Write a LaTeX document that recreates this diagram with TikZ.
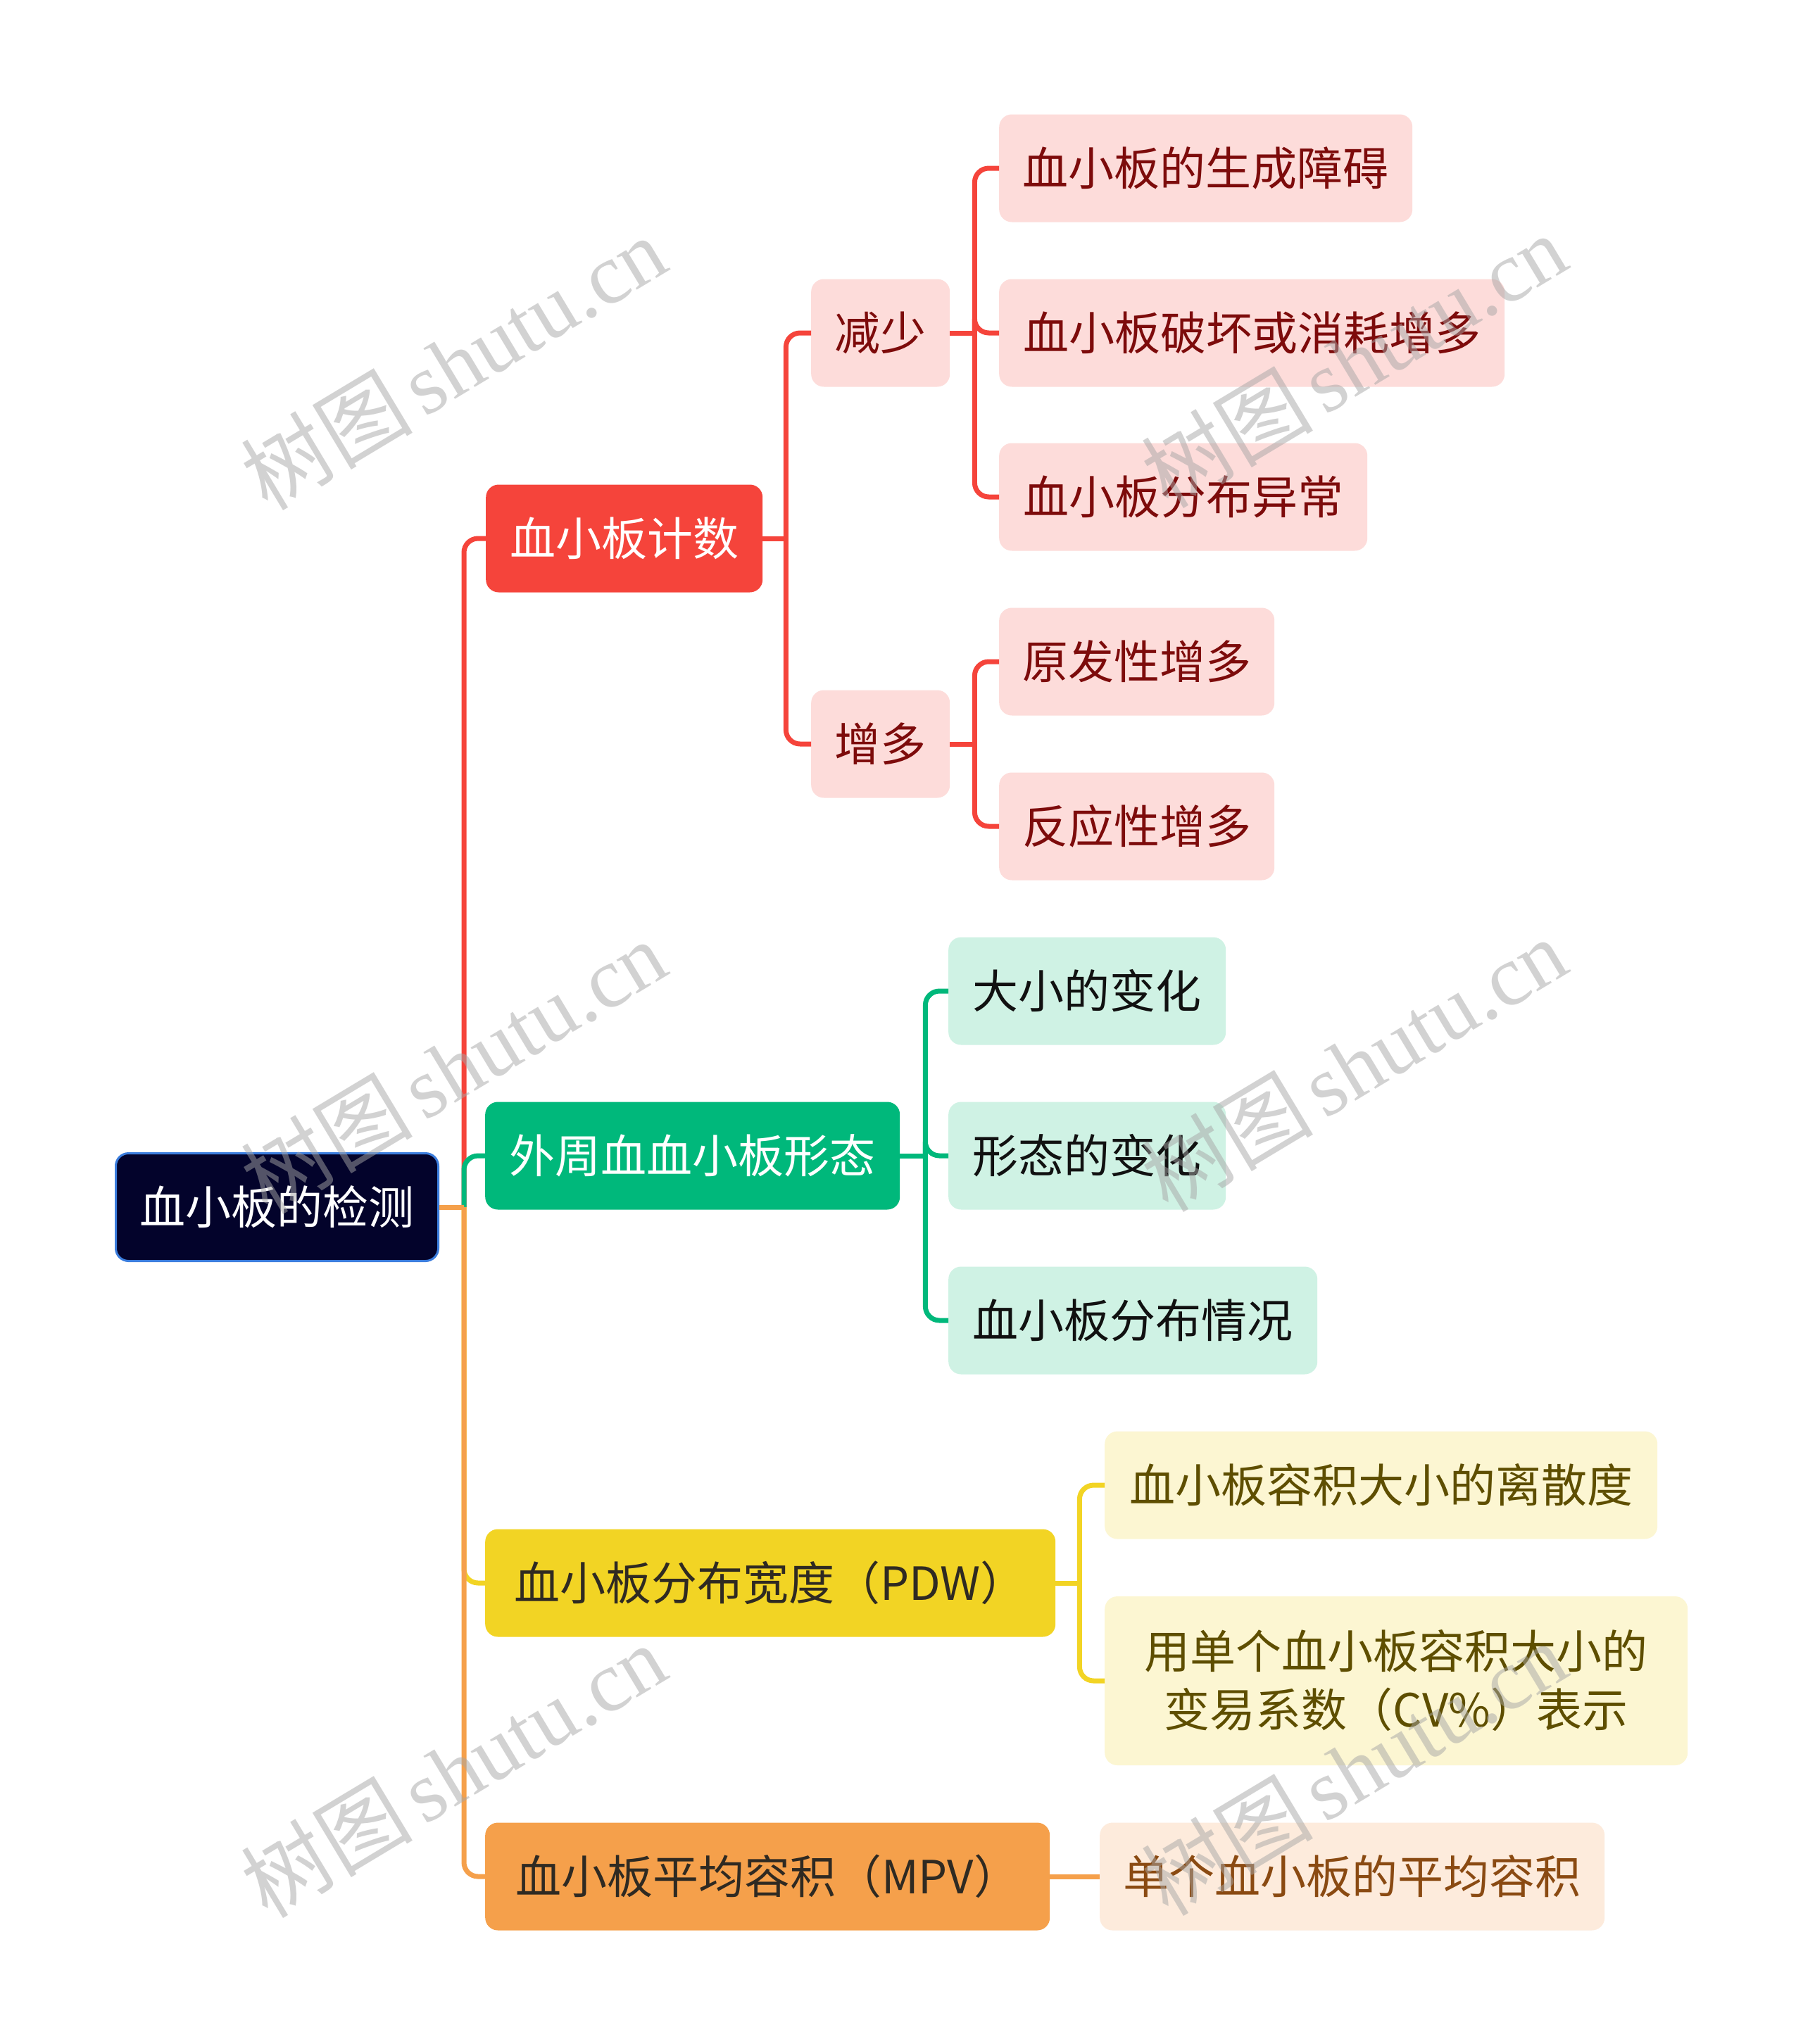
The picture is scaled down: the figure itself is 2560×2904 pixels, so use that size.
\documentclass[tikz,border=0pt]{standalone}
\usepackage{fontspec}
\setmainfont{Noto Sans CJK SC}
\newfontfamily\wmcjk{Noto Sans CJK SC}
\newfontfamily\wmlat{Liberation Serif}
\usetikzlibrary{calc}
\definecolor{rootfill}{HTML}{03032B}
\definecolor{rootborder}{HTML}{3B7DDD}
\definecolor{redmain}{HTML}{F5443B}
\definecolor{redlight}{HTML}{FDDCDA}
\definecolor{redtext}{HTML}{7D0B0B}
\definecolor{greenmain}{HTML}{00B87B}
\definecolor{greenlight}{HTML}{CFF2E4}
\definecolor{greentext}{HTML}{111111}
\definecolor{yellowmain}{HTML}{F2D424}
\definecolor{yellowlight}{HTML}{FCF6D2}
\definecolor{yellowtext}{HTML}{5E4E00}
\definecolor{orangemain}{HTML}{F5A04B}
\definecolor{orangelight}{HTML}{FDEBDC}
\definecolor{orangetext}{HTML}{8A4A12}
\definecolor{darktext}{HTML}{2F2A22}
\definecolor{wmgray}{HTML}{A6A6A6}
\tikzset{
  box/.style={rounded corners=18pt, inner sep=0pt, minimum height=153pt,
    font=\fontsize{65}{83}\selectfont, align=center, anchor=west},
  conn/.style={line width=7pt, rounded corners=20pt},
  wm/.style={text=wmgray, text opacity=0.5, rotate=31, inner sep=0pt},
}
\begin{document}
\begin{tikzpicture}[x=1pt,y=-1pt]
\useasboundingbox[fill=white] (0,0) rectangle (2560,2904);
% nodes
\node[box, fill=rootfill, draw=rootborder, line width=3pt, text=white, minimum width=458pt] (root) at (163,1715) {血小板的检测};
\node[box, fill=redmain, text=white, minimum width=393pt] (cnt) at (690,765) {血小板计数};
\node[box, fill=redlight, text=redtext, minimum width=197pt] (dec) at (1152,473) {减少};
\node[box, fill=redlight, text=redtext, minimum width=197pt] (inc) at (1152,1057) {增多};
\node[box, fill=redlight, text=redtext, minimum width=587pt] (r1) at (1419,239) {血小板的生成障碍};
\node[box, fill=redlight, text=redtext, minimum width=718pt] (r2) at (1419,473) {血小板破坏或消耗增多};
\node[box, fill=redlight, text=redtext, minimum width=523pt] (r3) at (1419,706) {血小板分布异常};
\node[box, fill=redlight, text=redtext, minimum width=391pt] (i1) at (1419,940) {原发性增多};
\node[box, fill=redlight, text=redtext, minimum width=391pt] (i2) at (1419,1174) {反应性增多};
\node[box, fill=greenmain, text=white, minimum width=589pt] (morph) at (689,1642) {外周血血小板形态};
\node[box, fill=greenlight, text=greentext, minimum width=394pt] (g1) at (1347,1408) {大小的变化};
\node[box, fill=greenlight, text=greentext, minimum width=394pt] (g2) at (1347,1642) {形态的变化};
\node[box, fill=greenlight, text=greentext, minimum width=524pt] (g3) at (1347,1876) {血小板分布情况};
\node[box, fill=yellowmain, text=darktext, minimum width=810pt] (pdw) at (689,2249) {血小板分布宽度（PDW）};
\node[box, fill=yellowlight, text=yellowtext, minimum width=785pt] (y1) at (1569,2110) {血小板容积大小的离散度};
\node[box, fill=yellowlight, text=yellowtext, minimum width=828pt, minimum height=240pt] (y2) at (1569,2388) {用单个血小板容积大小的\\变易系数（CV\%）表示};
\node[box, fill=orangemain, text=darktext, minimum width=802pt] (mpv) at (689,2666) {血小板平均容积（MPV）};
\node[box, fill=orangelight, text=orangetext, minimum width=717pt] (o1) at (1562,2666) {单个血小板的平均容积};
% junctions
\coordinate (j0) at ($(root.east)+(35,0)$);
\coordinate (j1) at ($(cnt.east)+(33,0)$);
\coordinate (j2) at ($(dec.east)+(35,0)$);
\coordinate (j3) at ($(inc.east)+(35,0)$);
\coordinate (j4) at ($(morph.east)+(36,0)$);
\coordinate (j5) at ($(pdw.east)+(34,0)$);
% red subtree
\draw[conn, redmain] (j0) |- (cnt.west);
\draw[conn, redmain] (cnt.east) -- (j1);
\draw[conn, redmain] (j1) |- (dec.west);
\draw[conn, redmain] (j1) |- (inc.west);
\draw[conn, redmain] (dec.east) -- (j2);
\draw[conn, redmain] (j2) |- (r1.west);
\draw[conn, redmain] (j2) |- (r2.west);
\draw[conn, redmain] (j2) |- (r3.west);
\draw[conn, redmain] (inc.east) -- (j3);
\draw[conn, redmain] (j3) |- (i1.west);
\draw[conn, redmain] (j3) |- (i2.west);
% green subtree
\draw[conn, greenmain] (j0) |- (morph.west);
\draw[conn, greenmain] (morph.east) -- (j4);
\draw[conn, greenmain] (j4) |- (g1.west);
\draw[conn, greenmain] (j4) |- (g2.west);
\draw[conn, greenmain] (j4) |- (g3.west);
% yellow subtree
\draw[conn, yellowmain] (j0) |- (pdw.west);
\draw[conn, yellowmain] (pdw.east) -- (j5);
\draw[conn, yellowmain] (j5) |- (y1.west);
\draw[conn, yellowmain] (j5) |- (y2.west);
% orange subtree
\draw[conn, orangemain] (j0) |- (mpv.west);
\draw[conn, orangemain] (root.east) -- (j0);
\draw[conn, orangemain] (mpv.east) -- (o1.west);
% watermarks
\foreach \wx/\wy [count=\k] in {644/515, 1923/512, 644/1515, 1923/1512, 644/2515, 1923/2512}{
  \node[wm] (wm\k) at (\wx,\wy) {\fontsize{122}{122}\selectfont{\wmcjk 树图}\hspace{16pt}{\wmlat shutu.cn}};
}
\end{tikzpicture}
\end{document}
